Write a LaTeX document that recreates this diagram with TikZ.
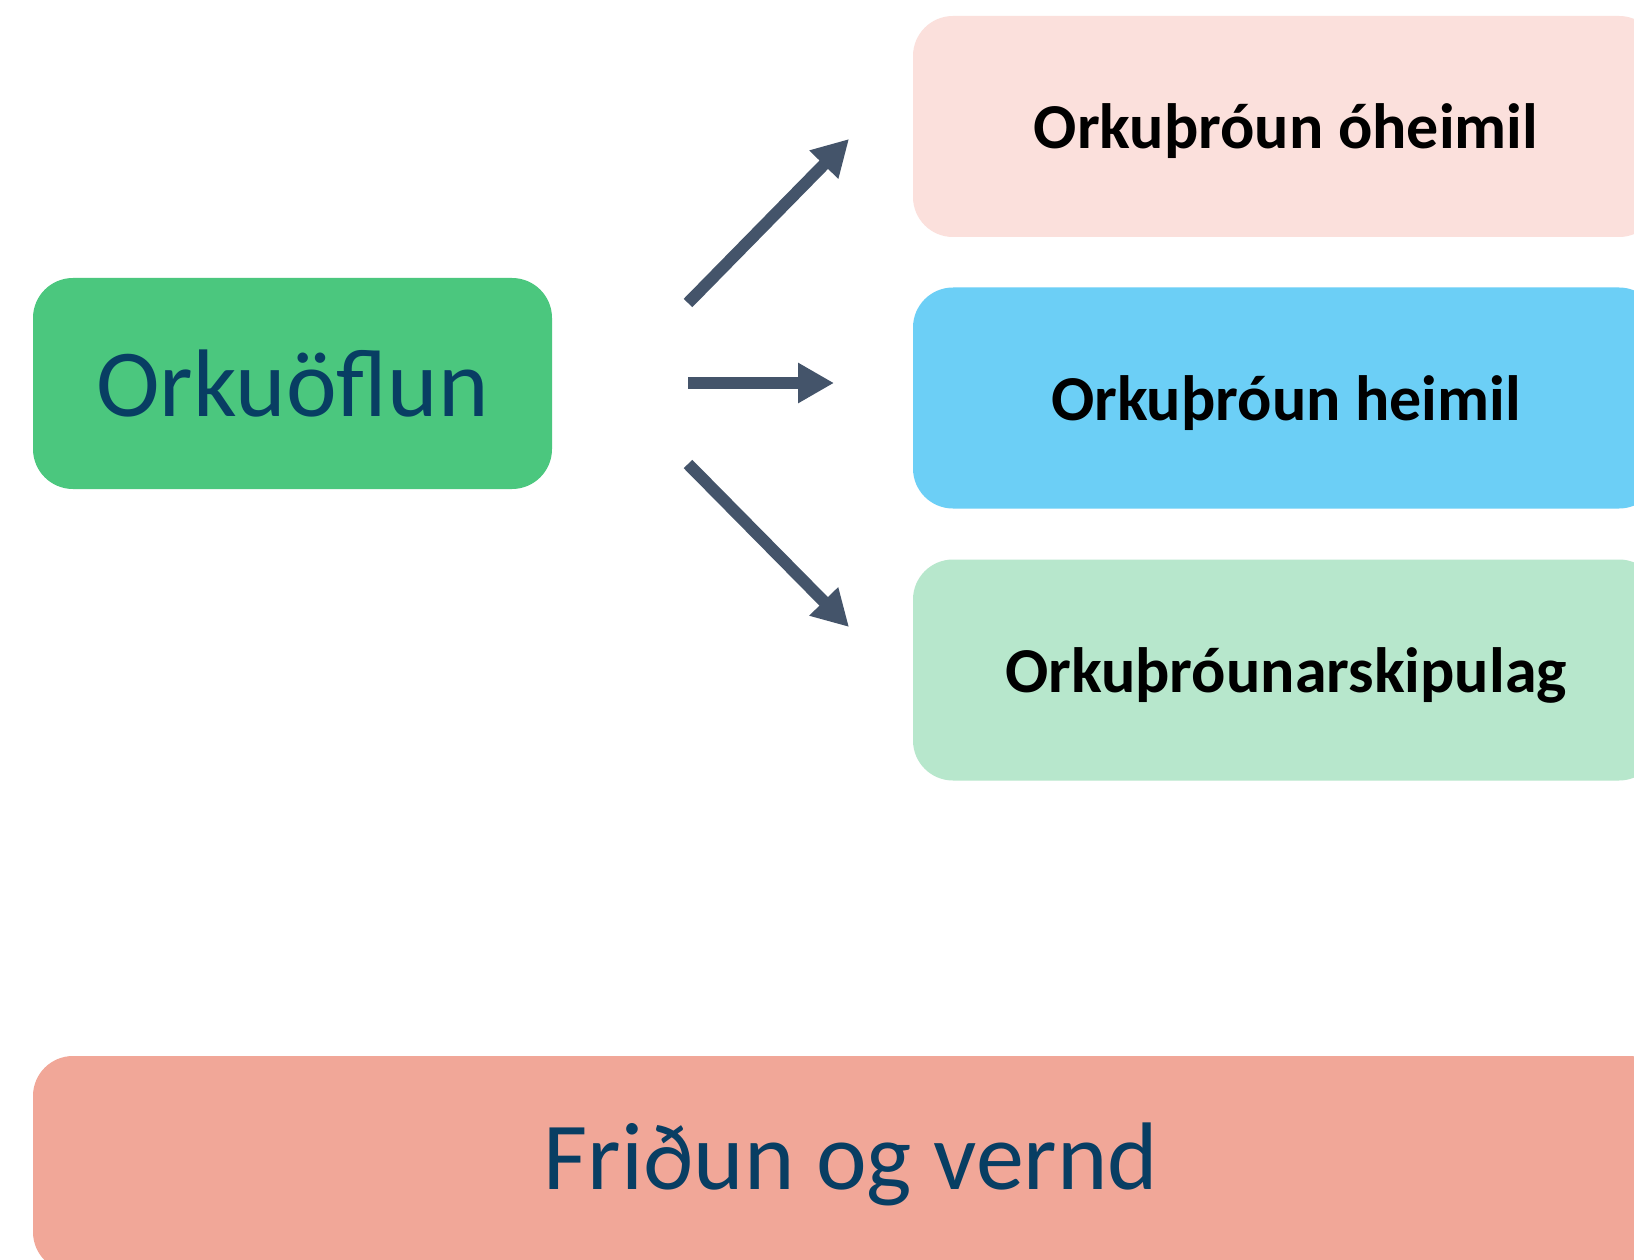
\documentclass[tikz,border=0pt]{standalone}
\usepackage{fontspec}
\setmainfont{Carlito}
\usetikzlibrary{arrows.meta}
\definecolor{okgreen}{RGB}{75,199,126}
\definecolor{oktext}{RGB}{8,62,99}
\definecolor{okpink}{RGB}{251,224,220}
\definecolor{okblue}{RGB}{108,207,246}
\definecolor{okmint}{RGB}{183,231,204}
\definecolor{oksalmon}{RGB}{241,167,152}
\definecolor{okarrow}{RGB}{68,84,106}

\begin{document}
\begin{tikzpicture}[x=1pt, y=-1pt,
    box/.style={rounded corners=40pt, inner sep=0pt, align=center},
    rightbox/.style={box, minimum width=746pt, minimum height=221pt, text depth=0pt,
        font=\fontsize{64}{70}\selectfont\bfseries, text=black},
    flow/.style={line width=12pt, okarrow, -{Triangle[length=36pt,width=38pt]}}]
                % Frame
                \clip (0,0) rectangle (1634,1260);
                \fill[white] (0,0) rectangle (1634,1260);

                % Left box
                \node[box, fill=okgreen, text=oktext, minimum width=519pt, minimum height=211pt,
                    font=\fontsize{96}{110}\selectfont] (oflun) at (292.5,383.5) {Orkuöflun};

                % Right boxes
                \node[rightbox, fill=okpink] (oheimil) at (1286,126.5) {Orkuþróun óheimil};
                \node[rightbox, fill=okblue] (heimil) at (1286,398) {Orkuþróun heimil};
                \node[rightbox, fill=okmint] (skipulag) at (1286,670) {Orkuþróunarskipulag};

                % Bottom box
                \node[box, fill=oksalmon, text=oktext, minimum width=1636pt, minimum height=216pt,
                    font=\fontsize{96}{110}\selectfont] (fridun) at (851,1164) {Friðun og vernd};

                % Arrows
                \coordinate (s1) at (688,303);
                \coordinate (e1) at (849,139);
                \coordinate (s2) at (688,383);
                \coordinate (e2) at (834,383);
                \coordinate (s3) at (688,464);
                \coordinate (e3) at (849,627);
                \draw[flow] (s1) -- (e1);
                \draw[flow] (s2) -- (e2);
                \draw[flow] (s3) -- (e3);
            \end{tikzpicture}
\end{document}
